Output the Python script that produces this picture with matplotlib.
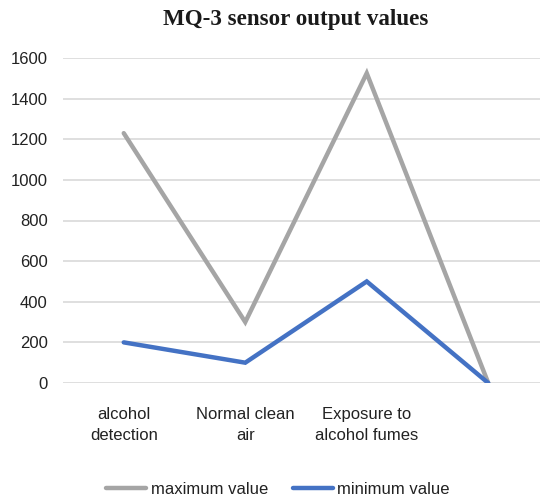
import matplotlib
matplotlib.use("Agg")
import matplotlib.pyplot as plt

categories = ["alcohol\ndetection", "Normal clean\nair", "Exposure to\nalcohol fumes", ""]
max_values = [1230, 300, 1525, 0]
min_values = [200, 100, 500, 0]
yticks = [0, 200, 400, 600, 800, 1000, 1200, 1400, 1600]

fig = plt.figure(figsize=(5.4, 5.0), dpi=100)
W, H = 540, 500
left, right = 63 / W, 549 / W
bottom, top = 1 - 383 / H, 1 - 58 / H
ax = fig.add_axes([left, bottom, right - left, top - bottom])

x = list(range(len(categories)))
l1, = ax.plot(x, max_values, color="#A5A5A5", lw=3.2, solid_capstyle="round", solid_joinstyle="miter", label="maximum value")
l2, = ax.plot(x, min_values, color="#4472C4", lw=3.2, solid_capstyle="round", solid_joinstyle="miter", label="minimum value")

ax.set_xlim(-0.5, len(categories) - 0.5)
ax.set_ylim(0, 1600)
ax.set_yticks(yticks)
ax.set_xticks(x)
ax.set_xticklabels(categories, family="Liberation Sans", fontsize=12, color="#222222", linespacing=1.55)
for lab in ax.get_yticklabels():
    lab.set_family("Liberation Sans")
    lab.set_fontsize(12)
    lab.set_color("#222222")
ax.tick_params(axis="both", length=0)
ax.tick_params(axis="y", pad=11)
ax.tick_params(axis="x", pad=17)
ax.grid(axis="y", color="#D9D9D9", lw=1.2)
ax.set_axisbelow(True)
for s in ax.spines.values():
    s.set_visible(False)

fig.text(296 / W, 1 - 20 / H, "MQ-3 sensor output values", ha="center", va="center",
         family="Liberation Serif", fontweight="bold", fontsize=16.6, color="#1a1a1a")

leg = fig.legend(handles=[l1, l2], loc="center", bbox_to_anchor=(278 / W, 1 - 489 / H), ncol=2,
                 frameon=False, prop={"family": "Liberation Sans", "size": 12},
                 handlelength=2.4, handletextpad=0.25, columnspacing=1.5)
for t in leg.get_texts():
    t.set_color("#222222")

fig.savefig("out.png", dpi=100)
